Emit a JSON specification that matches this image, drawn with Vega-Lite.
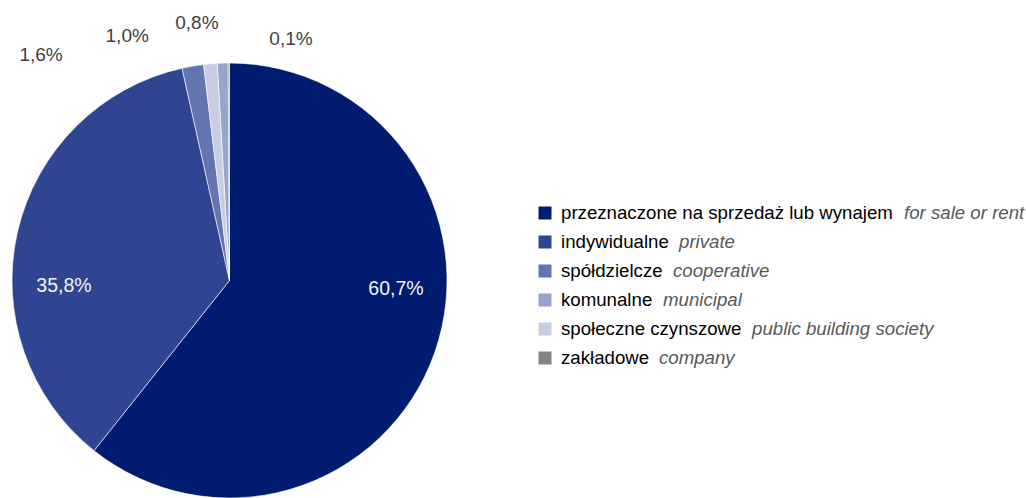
{
  "$schema": "https://vega.github.io/schema/vega-lite/v6.json",
  "padding": {"left": 0, "top": 13, "right": 0, "bottom": 0},
  "spacing": 79,
  "config": {"view": {"stroke": null}, "font": "Liberation Sans"},
  "datasets": {
    "d": [
      {"pl": "przeznaczone na sprzedaż lub wynajem", "en": "for sale or rent", "value": 60.7, "label": "60,7%", "order": 1, "lorder": 1},
      {"pl": "indywidualne", "en": "private", "value": 35.8, "label": "35,8%", "order": 2, "lorder": 2},
      {"pl": "spółdzielcze", "en": "cooperative", "value": 1.6, "label": "1,6%", "order": 3, "lorder": 3},
      {"pl": "komunalne", "en": "municipal", "value": 0.8, "label": "0,8%", "order": 5, "lorder": 4},
      {"pl": "społeczne czynszowe", "en": "public building society", "value": 1.0, "label": "1,0%", "order": 4, "lorder": 5},
      {"pl": "zakładowe", "en": "company", "value": 0.1, "label": "0,1%", "order": 6, "lorder": 6}
    ]
  },
  "hconcat": [
    {
      "width": 459,
      "height": 435,
      "data": {"name": "d"},
      "transform": [
        {"stack": "value", "groupby": [], "sort": [{"field": "order", "order": "ascending"}], "as": ["v0", "v1"]}
      ],
      "encoding": {
        "theta": {"field": "v0", "type": "quantitative", "scale": {"domain": [0, 100]}}
      },
      "layer": [
        {
          "mark": {"type": "arc", "outerRadius": 217.5, "stroke": "#ffffff", "strokeWidth": 0.6},
          "encoding": {
            "theta2": {"field": "v1"},
            "color": {
              "field": "pl", "type": "nominal", "legend": null,
              "scale": {
                "domain": ["przeznaczone na sprzedaż lub wynajem", "indywidualne", "spółdzielcze", "komunalne", "społeczne czynszowe", "zakładowe"],
                "range": ["#001c70", "#2f4592", "#6474ae", "#98a4cb", "#c8cde3", "#858585"]
              }
            }
          }
        },
        {
          "transform": [{"filter": "datum.order == 1"}],
          "mark": {"type": "text", "fontSize": 19.5, "fill": "#f2f2f2", "baseline": "middle", "align": "center", "dx": 166.5, "dy": 8.5},
          "encoding": {"radius": {"value": 0}, "text": {"field": "label"}}
        },
        {
          "transform": [{"filter": "datum.order == 2"}],
          "mark": {"type": "text", "fontSize": 19.5, "fill": "#f2f2f2", "baseline": "middle", "align": "center", "dx": -165.5, "dy": 5.5},
          "encoding": {"radius": {"value": 0}, "text": {"field": "label"}}
        },
        {
          "transform": [{"filter": "datum.order == 3"}],
          "mark": {"type": "text", "fontSize": 19, "fill": "#404040", "baseline": "middle", "align": "center", "dx": -138, "dy": 0},
          "encoding": {"radius": {"value": 231}, "text": {"field": "label"}}
        },
        {
          "transform": [{"filter": "datum.order == 4"}],
          "mark": {"type": "text", "fontSize": 19, "fill": "#404040", "baseline": "middle", "align": "center", "dx": -73, "dy": 0},
          "encoding": {"radius": {"value": 246}, "text": {"field": "label"}}
        },
        {
          "transform": [{"filter": "datum.order == 5"}],
          "mark": {"type": "text", "fontSize": 19, "fill": "#404040", "baseline": "middle", "align": "center", "dx": -18, "dy": 0},
          "encoding": {"radius": {"value": 258}, "text": {"field": "label"}}
        },
        {
          "transform": [{"filter": "datum.order == 6"}],
          "mark": {"type": "text", "fontSize": 19, "fill": "#404040", "baseline": "middle", "align": "center", "dx": 63, "dy": 0},
          "encoding": {"radius": {"value": 242}, "text": {"field": "label"}}
        }
      ]
    },
    {
      "width": 480,
      "height": 435,
      "data": {"name": "d"},
      "encoding": {
        "y": {"field": "pl", "type": "nominal", "sort": {"field": "lorder"}, "axis": null, "scale": {"type": "point", "range": [150, 295], "padding": 0}},
        "x": {"datum": 0, "type": "quantitative", "axis": null, "scale": {"domain": [0, 1]}}
      },
      "layer": [
        {
          "mark": {"type": "point", "shape": "square", "filled": true, "size": 169, "opacity": 1},
          "encoding": {
            "color": {
              "field": "pl", "type": "nominal", "legend": null,
              "scale": {
                "domain": ["przeznaczone na sprzedaż lub wynajem", "indywidualne", "spółdzielcze", "komunalne", "społeczne czynszowe", "zakładowe"],
                "range": ["#001c70", "#2f4592", "#6474ae", "#98a4cb", "#c8cde3", "#858585"]
              }
            }
          }
        },
        {
          "mark": {"type": "text", "fontSize": 18.67, "fill": "#000000", "baseline": "middle", "align": "left", "dx": 16},
          "encoding": {"text": {"field": "pl"}}
        },
        {
          "transform": [{"filter": "datum.lorder == 1"}],
          "mark": {"type": "text", "fontSize": 18.67, "fontStyle": "italic", "fill": "#595959", "baseline": "middle", "align": "left", "dx": 359},
          "encoding": {"text": {"field": "en"}}
        },
        {
          "transform": [{"filter": "datum.lorder == 2"}],
          "mark": {"type": "text", "fontSize": 18.67, "fontStyle": "italic", "fill": "#595959", "baseline": "middle", "align": "left", "dx": 134},
          "encoding": {"text": {"field": "en"}}
        },
        {
          "transform": [{"filter": "datum.lorder == 3"}],
          "mark": {"type": "text", "fontSize": 18.67, "fontStyle": "italic", "fill": "#595959", "baseline": "middle", "align": "left", "dx": 128},
          "encoding": {"text": {"field": "en"}}
        },
        {
          "transform": [{"filter": "datum.lorder == 4"}],
          "mark": {"type": "text", "fontSize": 18.67, "fontStyle": "italic", "fill": "#595959", "baseline": "middle", "align": "left", "dx": 118},
          "encoding": {"text": {"field": "en"}}
        },
        {
          "transform": [{"filter": "datum.lorder == 5"}],
          "mark": {"type": "text", "fontSize": 18.67, "fontStyle": "italic", "fill": "#595959", "baseline": "middle", "align": "left", "dx": 207},
          "encoding": {"text": {"field": "en"}}
        },
        {
          "transform": [{"filter": "datum.lorder == 6"}],
          "mark": {"type": "text", "fontSize": 18.67, "fontStyle": "italic", "fill": "#595959", "baseline": "middle", "align": "left", "dx": 114},
          "encoding": {"text": {"field": "en"}}
        }
      ]
    }
  ]
}
